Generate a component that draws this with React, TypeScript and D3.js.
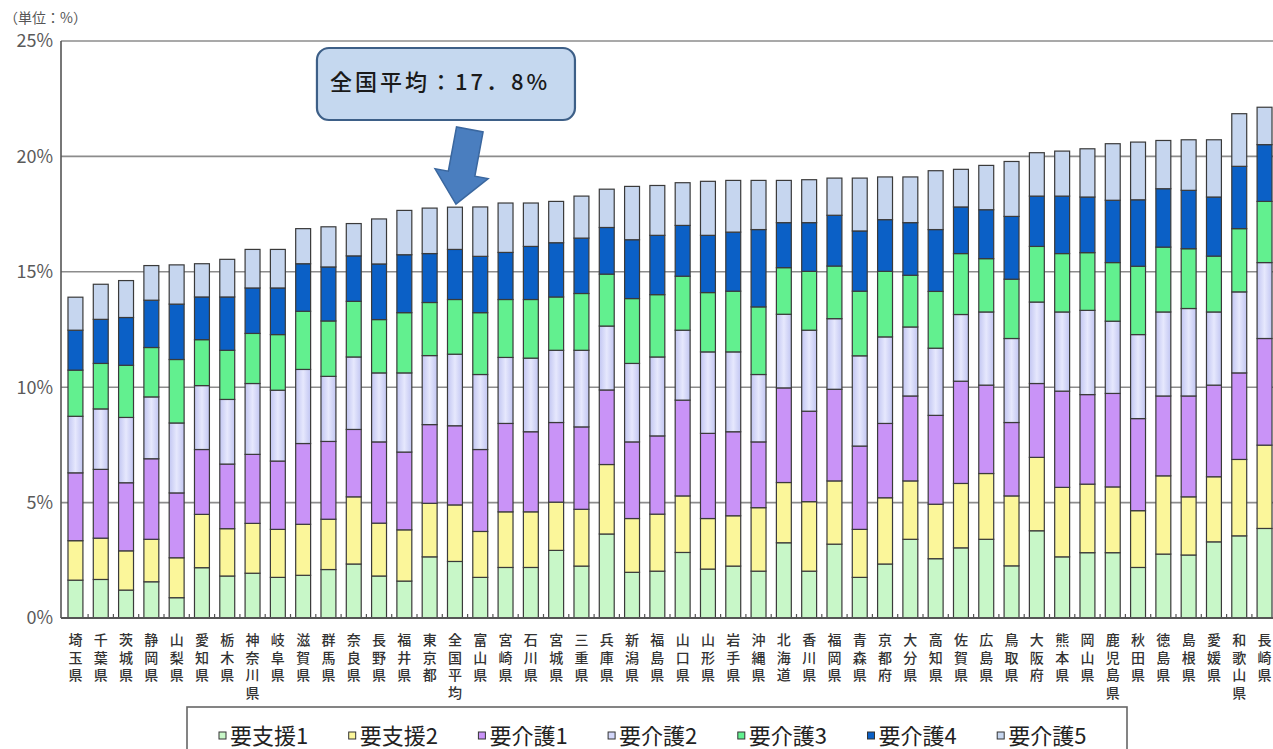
import React, { useEffect, useRef } from 'react';
import * as d3 from 'd3';

const categories = ['埼玉県','千葉県','茨城県','静岡県','山梨県','愛知県','栃木県','神奈川県','岐阜県','滋賀県','群馬県','奈良県','長野県','福井県','東京都','全国平均','富山県','宮崎県','石川県','宮城県','三重県','兵庫県','新潟県','福島県','山口県','山形県','岩手県','沖縄県','北海道','香川県','福岡県','青森県','京都府','大分県','高知県','佐賀県','広島県','鳥取県','大阪府','熊本県','岡山県','鹿児島県','秋田県','徳島県','島根県','愛媛県','和歌山県','長崎県'];

const seriesNames = ['要支援1','要支援2','要介護1','要介護2','要介護3','要介護4','要介護5'];

const support1 = [1.64,1.67,1.21,1.57,0.88,2.18,1.82,1.94,1.76,1.85,2.10,2.34,1.82,1.60,2.65,2.45,1.76,2.19,2.19,2.93,2.25,3.64,1.98,2.03,2.84,2.12,2.25,2.03,3.26,2.03,3.20,1.76,2.34,3.41,2.57,3.04,3.41,2.26,3.78,2.65,2.83,2.83,2.19,2.77,2.73,3.30,3.56,3.88];
const support2 = [1.71,1.79,1.70,1.84,1.73,2.31,2.05,2.16,2.08,2.21,2.18,2.91,2.29,2.22,2.32,2.45,1.99,2.41,2.41,2.09,2.46,3.01,2.33,2.47,2.45,2.19,2.18,2.75,2.61,3.01,2.74,2.08,2.87,2.53,2.36,2.79,2.85,3.03,3.18,3.01,2.97,2.85,2.46,3.39,2.52,2.82,3.31,3.61];
const care1 = [2.94,2.98,2.95,3.49,2.81,2.81,2.80,2.99,2.96,3.50,3.37,2.92,3.52,3.37,3.41,3.43,3.55,3.83,3.47,3.45,3.57,3.23,3.32,3.39,4.15,3.69,3.64,2.85,4.10,3.92,3.97,3.61,3.22,3.68,3.85,4.43,3.83,3.18,3.20,4.17,3.88,4.05,3.99,3.46,4.37,3.97,3.75,4.62];
const care2 = [2.45,2.62,2.83,2.68,3.03,2.77,2.80,3.07,3.07,3.21,2.82,3.14,2.99,3.43,2.99,3.10,3.25,2.86,3.19,3.13,3.32,2.77,3.40,3.42,3.03,3.53,3.46,2.92,3.19,3.51,3.06,3.91,3.75,2.99,2.91,2.89,3.17,3.64,3.53,3.43,3.65,3.13,3.64,3.64,3.79,3.17,3.51,3.29];
const care3 = [2.00,1.97,2.26,2.14,2.75,1.99,2.13,2.17,2.41,2.52,2.40,2.41,2.31,2.61,2.30,2.37,2.68,2.51,2.54,2.31,2.46,2.25,2.81,2.70,2.34,2.57,2.63,2.93,2.02,2.55,2.28,2.80,2.84,2.24,2.46,2.64,2.31,2.57,2.41,2.53,2.50,2.54,2.96,2.81,2.59,2.42,2.74,2.65];
const care4 = [1.73,1.91,2.07,2.05,2.40,1.85,2.31,1.97,2.02,2.06,2.34,1.97,2.41,2.51,2.12,2.17,2.44,2.04,2.30,2.35,2.40,2.02,2.55,2.57,2.20,2.48,2.56,3.35,1.95,2.11,2.20,2.61,2.24,2.28,2.68,2.02,2.12,2.72,2.18,2.49,2.41,2.70,2.88,2.53,2.53,2.56,2.70,2.46];
const care5 = [1.43,1.52,1.60,1.50,1.70,1.44,1.63,1.67,1.67,1.52,1.74,1.40,1.95,1.92,1.97,1.83,2.14,2.14,1.88,1.79,1.82,1.66,2.31,2.16,1.85,2.34,2.24,2.13,1.83,1.86,1.61,2.29,1.85,1.98,2.55,1.63,1.92,2.38,1.88,1.95,2.09,2.45,2.50,2.09,2.19,2.48,2.28,1.62];

const yTicks = [0, 5, 10, 15, 20, 25];
const averageLabel = '全国平均';
const averageText = '全国平均：17．8%';
const averageValue = 17.8;

const colors = ['#c8f7c8', '#fbf69a', '#c993f7', '#d3d7fa', '#62f08f', '#0b60c6', '#c6d6ef'];

const W = 1273, H = 749;
const JP = '"Noto Sans CJK JP", "Noto Sans", sans-serif';

export default function App() {
  const ref = useRef<SVGSVGElement>(null);
  useEffect(() => {
    document.body.style.margin = '0';
    const svg = d3.select(ref.current);
    svg.selectAll('*').remove();

    const seriesArrays = [support1, support2, care1, care2, care3, care4, care5];
    const table = categories.map((c, i) => {
      const row: any = { cat: c };
      seriesNames.forEach((s, k) => { row[s] = seriesArrays[k][i]; });
      return row;
    });
    const stacked = d3.stack().keys(seriesNames)(table as any);

    const x = d3.scaleBand<string>().domain(categories).range([60.4, 1279.6]).paddingInner(0.41).paddingOuter(0.3);
    const y = d3.scaleLinear().domain([0, 25]).range([618, 41]);
    const plotLeft = 61;
    const plotRight = 1290;

    const defs = svg.append('defs');
    const g2 = defs.append('linearGradient').attr('id', 'care2grad').attr('x1', '0').attr('x2', '1').attr('y1', '0').attr('y2', '0');
    g2.append('stop').attr('offset', '0%').attr('stop-color', '#c2c6f2');
    g2.append('stop').attr('offset', '50%').attr('stop-color', '#e6e8fd');
    g2.append('stop').attr('offset', '100%').attr('stop-color', '#c2c6f2');

    svg.append('rect').attr('width', W).attr('height', H).attr('fill', '#ffffff');

    // grid
    svg.append('g').selectAll('line').data(yTicks.filter(t => t > 0)).join('line')
      .attr('x1', plotLeft).attr('x2', plotRight)
      .attr('y1', d => y(d)).attr('y2', d => y(d))
      .attr('stroke', '#8c8c8c').attr('stroke-width', 1.6);

    // y labels
    svg.append('g').selectAll('text').data(yTicks).join('text')
      .attr('x', 53).attr('y', d => y(d)).attr('dy', '0.36em')
      .attr('text-anchor', 'end').attr('font-family', JP).attr('font-size', 18)
      .attr('fill', '#5a5a5a').text(d => `${d}%`);

    svg.append('text').attr('x', 4).attr('y', 23).attr('font-family', JP).attr('font-size', 14)
      .attr('fill', '#555').text('（単位：%）');

    // bars
    const bw = x.bandwidth();
    stacked.forEach((layer, k) => {
      svg.append('g').selectAll('rect').data(layer).join('rect')
        .attr('x', (d: any) => x(d.data.cat) as number)
        .attr('y', (d: any) => y(d[1]))
        .attr('width', bw)
        .attr('height', (d: any) => y(d[0]) - y(d[1]))
        .attr('fill', k === 3 ? 'url(#care2grad)' : colors[k])
        .attr('stroke', '#3a3a3a').attr('stroke-width', 1.2);
    });

    // axes
    svg.append('line').attr('x1', plotLeft).attr('x2', plotLeft).attr('y1', y(25)).attr('y2', y(0))
      .attr('stroke', '#555').attr('stroke-width', 1.6);
    svg.append('line').attr('x1', plotLeft).attr('x2', plotRight).attr('y1', y(0)).attr('y2', y(0))
      .attr('stroke', '#555').attr('stroke-width', 1.8);
    const step = x.step();
    svg.append('g').selectAll('line').data(categories).join('line')
      .attr('x1', d => (x(d) as number) + bw + (step - bw) / 2)
      .attr('x2', d => (x(d) as number) + bw + (step - bw) / 2)
      .attr('y1', y(0)).attr('y2', y(0) - 4)
      .attr('stroke', '#555').attr('stroke-width', 1.2);

    // x labels (vertical)
    const xl = svg.append('g');
    categories.forEach(c => {
      const cx = (x(c) as number) + bw / 2;
      Array.from(c).forEach((ch, j) => {
        xl.append('text').attr('x', cx).attr('y', 640 + j * 17.5).attr('dy', '0.36em')
          .attr('text-anchor', 'middle').attr('font-family', JP).attr('font-size', 14)
          .attr('font-weight', 500).attr('fill', '#333').text(ch);
      });
    });

    // annotation
    const ax = (x(averageLabel) as number) + bw / 2;
    const boxX = ax - 138, boxY = y(25) + 7;
    svg.append('rect').attr('x', boxX).attr('y', boxY).attr('width', 258).attr('height', 72)
      .attr('rx', 12).attr('fill', '#c5d8ef').attr('stroke', '#3d5f87').attr('stroke-width', 2.2);
    svg.append('text').attr('x', boxX + 13).attr('y', boxY + 34).attr('dy', '0.36em')
      .attr('font-family', JP).attr('font-size', 22).attr('font-weight', 500).attr('fill', '#1a1a1a')
      .attr('letter-spacing', '3').text(averageText);

    const tipY = y(averageValue) - 3;
    const arrow = svg.append('g').attr('transform', `translate(${ax + 1},${tipY}) rotate(10.5)`);
    arrow.append('path')
      .attr('d', 'M0,0 L-27,-31 L-13.5,-31 L-13.5,-76 L13.5,-76 L13.5,-31 L27,-31 Z')
      .attr('fill', '#4a7ebf').attr('stroke', '#3a679f').attr('stroke-width', 1.5);

    // legend
    svg.append('rect').attr('x', 187).attr('y', 707).attr('width', 940).attr('height', 60)
      .attr('fill', '#fff').attr('stroke', '#666').attr('stroke-width', 1.6);
    seriesNames.forEach((s, k) => {
      const lx = 219 + k * 129.7;
      svg.append('rect').attr('x', lx).attr('y', 732).attr('width', 7).attr('height', 7)
        .attr('fill', colors[k]).attr('stroke', '#333').attr('stroke-width', 1);
      svg.append('text').attr('x', lx + 11).attr('y', 736).attr('dy', '0.36em')
        .attr('font-family', JP).attr('font-size', 22).attr('fill', '#222').text(s);
    });
  }, []);
  return <svg ref={ref} width={W} height={H} style={{ position: 'absolute', left: 0, top: 0, display: 'block' }} />;
}
